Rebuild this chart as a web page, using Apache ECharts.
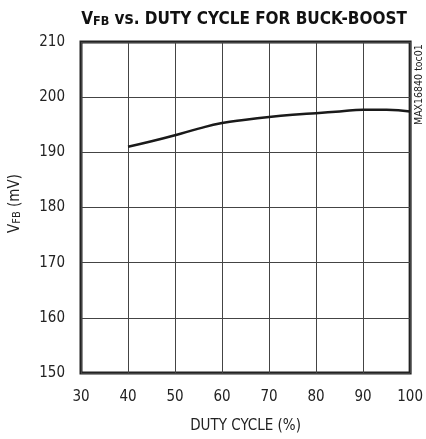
<!DOCTYPE html>
<html>
<head>
<meta charset="utf-8">
<script src="https://cdn.jsdelivr.net/npm/echarts@6/dist/echarts.min.js"></script>
<style>html,body{margin:0;padding:0;background:#fff}#c{width:426px;height:439px}</style>
</head>
<body>
<div id="c"></div>
<script>
var dutyCycle = [40, 45, 50, 55, 60, 65, 70, 75, 80, 85, 90, 95, 100];
var vfb = [191.0, 192.0, 193.1, 194.3, 195.3, 195.9, 196.4, 196.8, 197.1, 197.4, 197.7, 197.7, 197.4];
var xTicks = [30, 40, 50, 60, 70, 80, 90, 100];
var yTicks = [150, 160, 170, 180, 190, 200, 210];

var FONT = "'Liberation Sans Narrow', 'DejaVu Sans Condensed', 'Arial Narrow', sans-serif";
var chart = echarts.init(document.getElementById('c'), null, {renderer: 'canvas'});
chart.setOption({
  animation: false,
  backgroundColor: '#fff',
  title: {
    text: '{v|V}{s|FB}{v| vs. DUTY CYCLE FOR BUCK-BOOST}',
    left: 239, top: 6, textAlign: 'center',
    textStyle: {
      rich: {
        v: {fontFamily: FONT, fontWeight: 'bold', fontSize: 17, color: '#111'},
        s: {fontFamily: FONT, fontWeight: 'bold', fontSize: 12.5, color: '#111', verticalAlign: 'bottom', padding: [3, 0, 0, 0]}
      }
    }
  },
  grid: {left: 80, right: 15, top: 42, bottom: 66, show: true, borderColor: '#222', borderWidth: 3, backgroundColor: 'transparent'},
  xAxis: {
    type: 'value', min: xTicks[0], max: xTicks[xTicks.length - 1], interval: 10,
    axisLine: {show: false}, axisTick: {show: false},
    splitLine: {show: true, lineStyle: {color: '#444', width: 1}},
    axisLabel: {fontFamily: FONT, fontSize: 15, color: '#222', margin: 17},
    name: 'DUTY CYCLE (%)', nameLocation: 'middle', nameGap: 46,
    nameTextStyle: {fontFamily: FONT, fontSize: 15, color: '#222'}
  },
  yAxis: {
    type: 'value', min: yTicks[0], max: yTicks[yTicks.length - 1], interval: 10,
    axisLine: {show: false}, axisTick: {show: false},
    splitLine: {show: true, lineStyle: {color: '#444', width: 1}},
    axisLabel: {fontFamily: FONT, fontSize: 15, color: '#222', margin: 16},
    name: '{v|V}{s|FB}{v| (mV)}', nameLocation: 'middle', nameGap: 58, nameRotate: 90,
    nameTextStyle: {
      padding: [0, 0, 0, 8],
      rich: {
        v: {fontFamily: FONT, fontSize: 15, color: '#222'},
        s: {fontFamily: FONT, fontSize: 11, color: '#222', verticalAlign: 'bottom', padding: [4, 0, 0, 0]}
      }
    }
  },
  graphic: [{
    type: 'text', x: 414, y: 125, rotation: Math.PI / 2,
    style: {text: 'MAX16840 toc01', font: '10.5px ' + FONT, fill: '#222', textAlign: 'left', textVerticalAlign: 'top'}
  }],
  series: [{
    type: 'line', smooth: true, showSymbol: false,
    data: dutyCycle.map(function (d, i) { return [d, vfb[i]]; }),
    lineStyle: {color: '#1a1a1a', width: 2.5}
  }]
});
</script>
</body>
</html>
